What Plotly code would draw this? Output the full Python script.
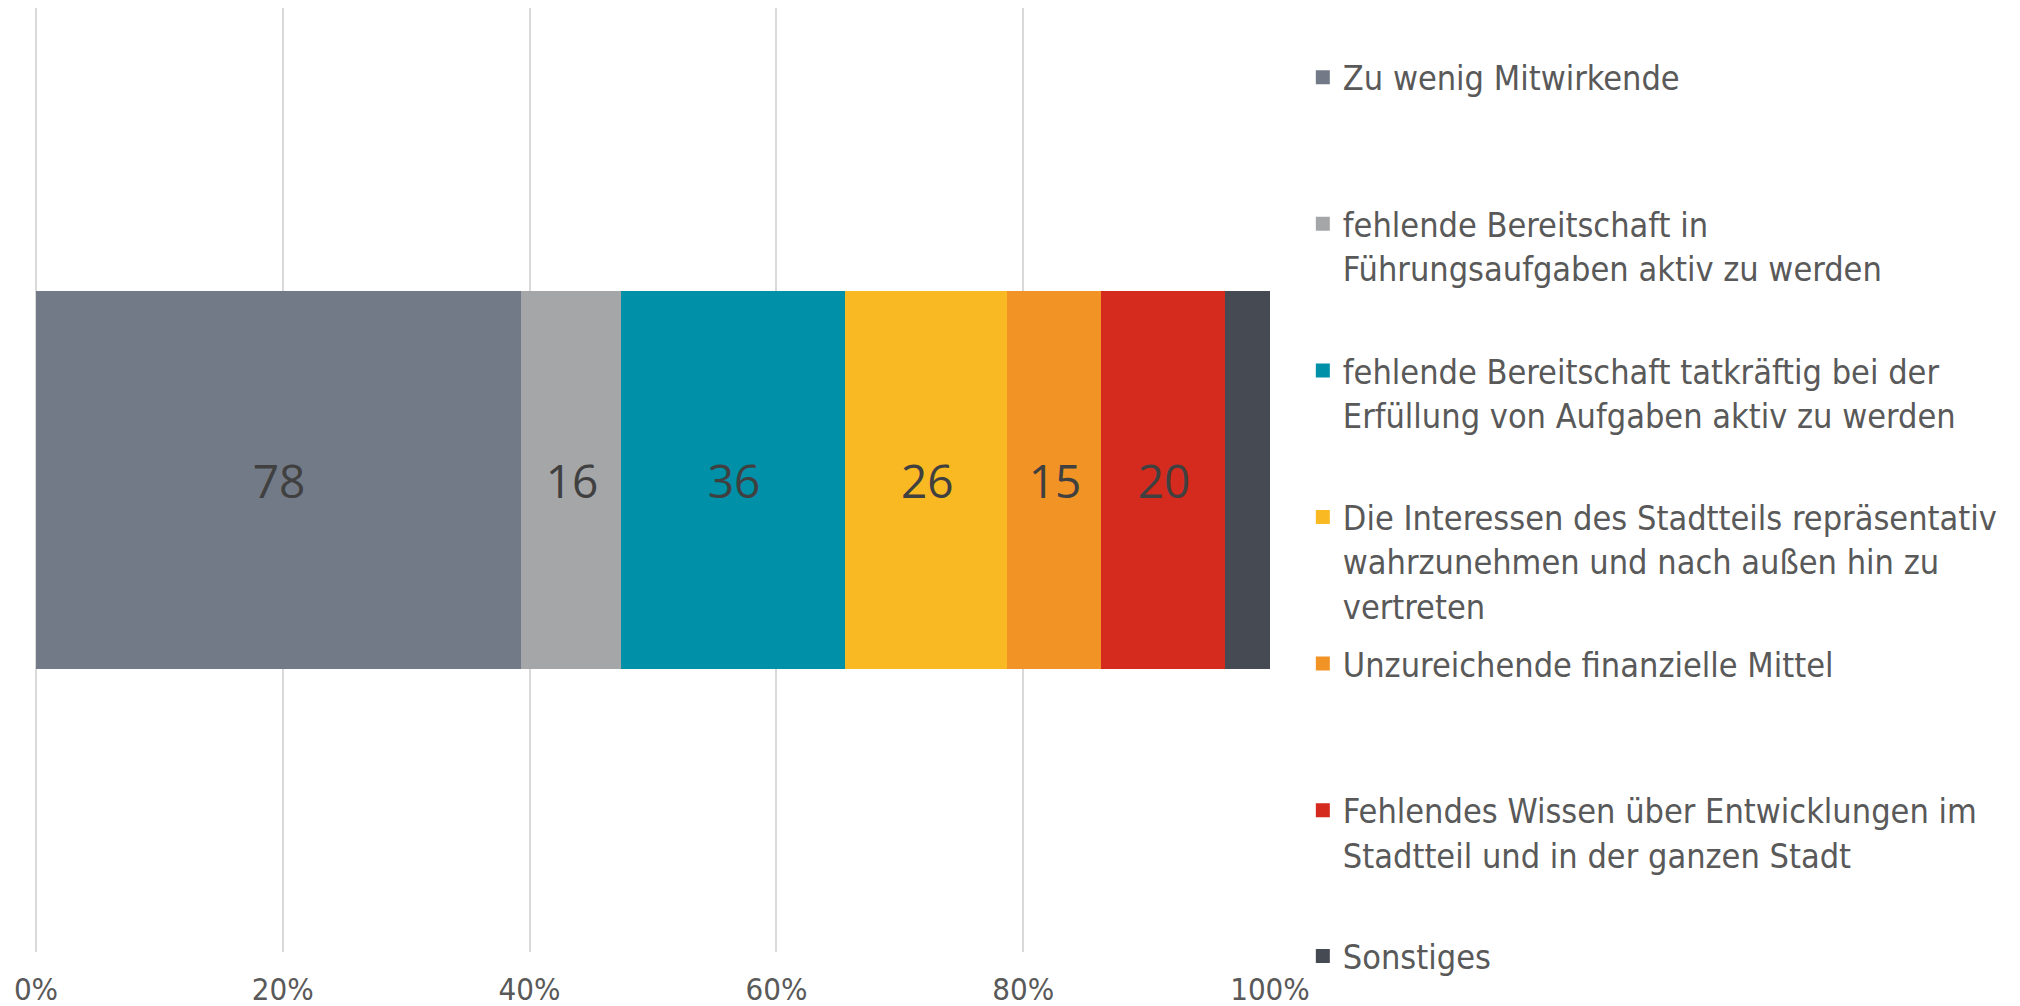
import plotly.graph_objects as go

categories = [""]
series_names = [
    "Zu wenig Mitwirkende",
    "fehlende Bereitschaft in<br>Führungsaufgaben aktiv zu werden",
    "fehlende Bereitschaft tatkräftig bei der<br>Erfüllung von Aufgaben aktiv zu werden",
    "Die Interessen des Stadtteils repräsentativ<br>wahrzunehmen und nach außen hin zu<br>vertreten",
    "Unzureichende finanzielle Mittel",
    "Fehlendes Wissen über Entwicklungen im<br>Stadtteil und in der ganzen Stadt",
    "Sonstiges",
]
series_values = [78, 16, 36, 26, 15, 20, 7]
show_label = [True, True, True, True, True, True, False]
colors = ["#737A87", "#A5A6A8", "#0090A8", "#F9B922", "#F29325", "#D52B1E", "#464B53"]
tick_vals = [0, 20, 40, 60, 80, 100]
tick_text = ["0%", "20%", "40%", "60%", "80%", "100%"]

TEXT_FONT = "DejaVu Sans Condensed, sans-serif"
LABEL_FONT = "Open Sans, sans-serif"

fig = go.Figure()
last = len(series_names) - 1
for i, (name, val, col, lab) in enumerate(zip(series_names, series_values, colors, show_label)):
    n_lines = name.count("<br>") + 1
    padded = name if i == last else name + "<br>\u00a0" * (3 - n_lines)
    fig.add_trace(go.Bar(
        y=categories, x=[val], orientation="h", name=padded,
        marker=dict(color=col, line=dict(width=2, color=col)),
        text=[str(val)] if lab else None,
        textposition="inside" if lab else "none",
        insidetextanchor="middle",
        textfont=dict(family=LABEL_FONT, size=46, color="#404040"),
        legendgroup=f"g{i}",
        legend="legend2" if i == last else "legend",
        hoverinfo="skip",
    ))

legend_common = dict(
    x=1.0266, xanchor="left", yanchor="top",
    traceorder="grouped", tracegroupgap=11, valign="top",
    font=dict(family=TEXT_FONT, size=34, color="#595959"),
    bgcolor="rgba(0,0,0,0)",
)

fig.update_layout(
    width=2020, height=1006,
    barmode="stack", barnorm="percent", bargap=0.602,
    plot_bgcolor="white", paper_bgcolor="white",
    margin=dict(l=28, r=758, t=0, b=62),
    legend=dict(y=0.957, **legend_common),
    legend2=dict(y=0.026, **legend_common),
    showlegend=True,
)
fig.update_xaxes(
    range=[0, 100], tickvals=tick_vals, ticktext=tick_text,
    showgrid=True, gridcolor="#D9D9D9", gridwidth=2,
    zeroline=True, zerolinecolor="#D9D9D9", zerolinewidth=2,
    showline=False, ticks="", ticklabelstandoff=16,
    tickfont=dict(family=TEXT_FONT, size=31, color="#595959"),
    fixedrange=True,
)
fig.update_yaxes(showticklabels=False, showgrid=False, zeroline=False, fixedrange=True)

fig.write_html("out.html")
